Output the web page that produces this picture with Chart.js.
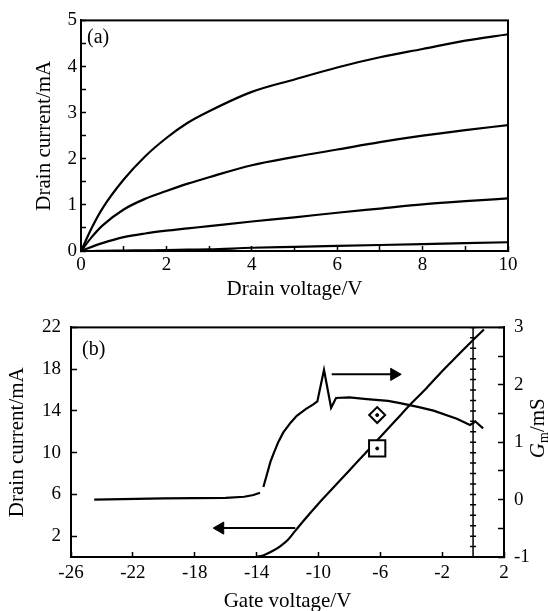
<!DOCTYPE html>
<html>
<head>
<meta charset="utf-8">
<script src="https://cdn.jsdelivr.net/npm/chart.js@4.4.1/dist/chart.umd.min.js"></script>
<style>
  html, body { margin: 0; padding: 0; background: #fff; }
  .panel { position: absolute; left: 0; width: 548px; }
  #panelA { top: 0; height: 300px; }
  #panelB { top: 300px; height: 311px; }
</style>
</head>
<body>
<div class="panel" id="panelA"><canvas id="chartA" width="548" height="300"></canvas></div>
<div class="panel" id="panelB"><canvas id="chartB" width="548" height="311"></canvas></div>
<script>
// ---- panel (a): output curves, Id vs Vds ----
const drainV = [0, 0.25, 0.5, 1, 1.5, 2, 2.5, 3, 4, 5, 6, 7, 8, 9, 10];
const curve1 = [0, 0.5, 0.92, 1.55, 2.05, 2.45, 2.78, 3.03, 3.45, 3.72, 3.98, 4.2, 4.38, 4.56, 4.7];
const curve2 = [0, 0.3, 0.55, 0.9, 1.13, 1.3, 1.46, 1.6, 1.86, 2.04, 2.2, 2.36, 2.5, 2.62, 2.73];
const curve3 = [0, 0.09, 0.17, 0.3, 0.38, 0.44, 0.49, 0.54, 0.64, 0.73, 0.83, 0.92, 1.01, 1.08, 1.14];
const curve4 = [0, 0, 0.005, 0.01, 0.015, 0.02, 0.03, 0.035, 0.07, 0.09, 0.11, 0.13, 0.15, 0.17, 0.19];

// ---- panel (b): transfer curve and transconductance ----
const gateV = [-14, -13.5, -13, -12.5, -12, -11.5, -11, -10, -9, -8, -7, -6, -5, -4, -3, -2, -1, 0, 0.7];
const drainI = [0, 0.2, 0.55, 1.0, 1.6, 2.5, 3.4, 5.1, 6.7, 8.3, 9.9, 11.5, 13.1, 14.7, 16.2, 17.8, 19.3, 20.8, 21.8];

const gmV = [-24.5, -20, -16, -14.8, -14.2, -13.78, -13.7, -13.56, -13.35, -13.1, -12.9, -12.6, -12.27, -11.8, -11.4, -10.8, -10.33, -10.07,
  -9.64, -9.18, -8.86, -8, -6.87, -5.5, -4.72, -3.5, -2.56, -1.05, -0.2, 0.15, 0.65];
const gm = [0, 0.02, 0.03, 0.05, 0.08, 0.12, null, 0.22, 0.42, 0.66, 0.8, 1.0, 1.17, 1.34, 1.46, 1.58, 1.66, 1.71,
  2.26, 1.6, 1.77, 1.78, 1.75, 1.72, 1.68, 1.61, 1.55, 1.41, 1.3, 1.36, 1.24];

// vertical marker line at Vg = 0 with small ticks every 1 mA
const markX = 0;
const markY = [0, 1, 2, 3, 4, 5, 6, 7, 8, 9, 10, 11, 12, 13, 14, 15, 16, 17, 18, 19, 20, 21, 22];

// arrows (start, head) and the two symbols
const arrowRightX = [-9.14, -5.1], arrowRightY = [17.5, 17.5];
const arrowLeftX = [-11.5, -16.35], arrowLeftY = [2.77, 2.77];
const diamondPt = { x: -6.2, y: 13.6 };
const squarePt = { x: -6.2, y: 10.4 };

const leftTicksB = [2, 6, 10, 14, 18, 22];

Chart.defaults.font.family = '"Liberation Serif", "Times New Roman", serif';
Chart.defaults.color = '#000';

const pts = (xs, ys) => xs.map((x, i) => ({ x: x, y: ys[i] }));

function curve(xs, ys, axis, smooth) {
  return {
    data: pts(xs, ys),
    yAxisID: axis || 'y',
    borderColor: '#000',
    borderWidth: 2.2,
    pointRadius: 0,
    cubicInterpolationMode: smooth === false ? 'default' : 'monotone',
    tension: 0
  };
}

const gridInside = (len) => ({ drawOnChartArea: false, tickLength: len, color: '#000', tickColor: '#000', tickWidth: 1.5 });
const blackBorder = { color: '#000', width: 2 };

// frame round the plot area and the panel tag
const framePlugin = {
  id: 'frame',
  afterDraw(chart, args, opts) {
    const { ctx, chartArea: a } = chart;
    ctx.save();
    ctx.strokeStyle = '#000';
    ctx.lineWidth = 2;
    ctx.strokeRect(a.left, a.top, a.right - a.left, a.bottom - a.top);
    ctx.fillStyle = '#000';
    ctx.font = '20px "Liberation Serif"';
    ctx.textBaseline = 'middle';
    ctx.textAlign = 'left';
    ctx.fillText(opts.tag, a.left + opts.dx, a.top + opts.dy);
    ctx.restore();
  }
};

// right axis title of (b): G_m/mS, reading bottom to top
const gmTitlePlugin = {
  id: 'gmTitle',
  afterDraw(chart) {
    const { ctx, chartArea: a } = chart;
    const cx = chart.width - 10;
    const cy = (a.top + a.bottom) / 2 - 14;
    ctx.save();
    ctx.translate(cx, cy);
    ctx.rotate(-Math.PI / 2);
    ctx.fillStyle = '#000';
    ctx.textBaseline = 'middle';
    ctx.textAlign = 'left';
    const fG = 'italic 21px "Liberation Serif"', fm = '14px "Liberation Serif"', fR = '21px "Liberation Serif"';
    ctx.font = fG; const wG = ctx.measureText('G').width;
    ctx.font = fm; const wm = ctx.measureText('m').width;
    ctx.font = fR; const wR = ctx.measureText('/mS').width;
    let x = -(wG + wm + wR) / 2;
    ctx.font = fG; ctx.fillText('G', x, 0); x += wG;
    ctx.font = fm; ctx.fillText('m', x, 6); x += wm;
    ctx.font = fR; ctx.fillText('/mS', x, 0);
    ctx.restore();
  }
};

new Chart(document.getElementById('chartA'), {
  type: 'line',
  data: {
    datasets: [
      curve(drainV, curve1),
      curve(drainV, curve2),
      curve(drainV, curve3),
      curve(drainV, curve4)
    ]
  },
  options: {
    responsive: false,
    animation: false,
    layout: { padding: { top: 15, right: 40, bottom: 0, left: 0 } },
    plugins: {
      legend: { display: false },
      tooltip: { enabled: false },
      frame: { tag: '(a)', dx: 6, dy: 17 }
    },
    scales: {
      x: {
        type: 'linear', min: 0, max: 10,
        ticks: { stepSize: 1, autoSkip: false, maxRotation: 0, padding: 8, font: { size: 19 },
          callback: v => (v % 2 === 0 ? v : '') },
        grid: gridInside(-5),
        border: blackBorder,
        title: { display: true, text: 'Drain voltage/V', font: { size: 21 }, padding: { top: 0, bottom: -2 } },
        afterFit: s => { s.height = 49; }
      },
      y: {
        min: 0, max: 5,
        ticks: { stepSize: 0.5, autoSkip: false, padding: 9, font: { size: 19 },
          callback: v => (Number.isInteger(v) ? v : '') },
        grid: gridInside(-5),
        border: blackBorder,
        title: { display: true, text: 'Drain current/mA', font: { size: 21 }, padding: { top: 32, bottom: 0 } },
        afterFit: s => { s.width = 81; }
      }
    }
  },
  plugins: [framePlugin]
});

new Chart(document.getElementById('chartB'), {
  type: 'line',
  data: {
    datasets: [
      { data: [squarePt], yAxisID: 'y', showLine: false, pointStyle: 'circle', pointRadius: 1.5,
        pointBackgroundColor: '#000', pointBorderColor: '#000' },
      { data: [diamondPt], yAxisID: 'y', showLine: false, pointStyle: 'circle', pointRadius: 1.5,
        pointBackgroundColor: '#000', pointBorderColor: '#000' },
      { data: [squarePt], yAxisID: 'y', showLine: false, pointStyle: 'rect', pointRadius: 11.5,
        pointBorderWidth: 2, pointBorderColor: '#000', pointBackgroundColor: '#fff' },
      { data: [diamondPt], yAxisID: 'y', showLine: false, pointStyle: 'rectRot', pointRadius: 8,
        pointBorderWidth: 2, pointBorderColor: '#000', pointBackgroundColor: '#fff' },
      { data: pts(arrowRightX, arrowRightY), yAxisID: 'y', borderColor: '#000', borderWidth: 2,
        pointStyle: 'triangle', pointRadius: [0, 7], pointRotation: [0, 90],
        pointBackgroundColor: '#000', pointBorderColor: '#000', pointBorderWidth: 1 },
      { data: pts(arrowLeftX, arrowLeftY), yAxisID: 'y', borderColor: '#000', borderWidth: 2,
        pointStyle: 'triangle', pointRadius: [0, 7], pointRotation: [0, -90],
        pointBackgroundColor: '#000', pointBorderColor: '#000', pointBorderWidth: 1 },
      curve(gateV, drainI, 'y'),
      curve(gmV, gm, 'y2', false),
      { data: markY.map(y => ({ x: markX, y: y })), yAxisID: 'y', borderColor: '#000', borderWidth: 1.5,
        pointStyle: 'line', pointRadius: 3, pointBorderWidth: 1.5, pointBorderColor: '#000' }
    ]
  },
  options: {
    responsive: false,
    animation: false,
    layout: { padding: { top: 18, right: 0, bottom: 0, left: 0 } },
    plugins: {
      legend: { display: false },
      tooltip: { enabled: false },
      frame: { tag: '(b)', dx: 11, dy: 22 }
    },
    scales: {
      x: {
        type: 'linear', min: -26, max: 2,
        ticks: { stepSize: 4, autoSkip: false, maxRotation: 0, padding: 10, font: { size: 19 } },
        grid: gridInside(-5),
        border: blackBorder,
        title: { display: true, text: 'Gate voltage/V', font: { size: 21 }, padding: { top: 0, bottom: -3 } },
        afterFit: s => { s.height = 54; }
      },
      y: {
        position: 'left', min: 0, max: 22,
        afterBuildTicks: s => { s.ticks = leftTicksB.map(v => ({ value: v })); },
        ticks: { autoSkip: false, padding: 16, font: { size: 19 } },
        grid: gridInside(-6),
        border: blackBorder,
        title: { display: true, text: 'Drain current/mA', font: { size: 21 }, padding: { top: 5, bottom: 0 } },
        afterFit: s => { s.width = 71; }
      },
      y2: {
        position: 'right', min: -1, max: 3,
        ticks: { stepSize: 0.5, autoSkip: false, padding: 16, font: { size: 19 },
          callback: v => (Number.isInteger(v) ? v : '') },
        grid: gridInside(-6),
        border: blackBorder,
        afterFit: s => { s.width = 44; }
      }
    }
  },
  plugins: [framePlugin, gmTitlePlugin]
});
</script>
</body>
</html>
